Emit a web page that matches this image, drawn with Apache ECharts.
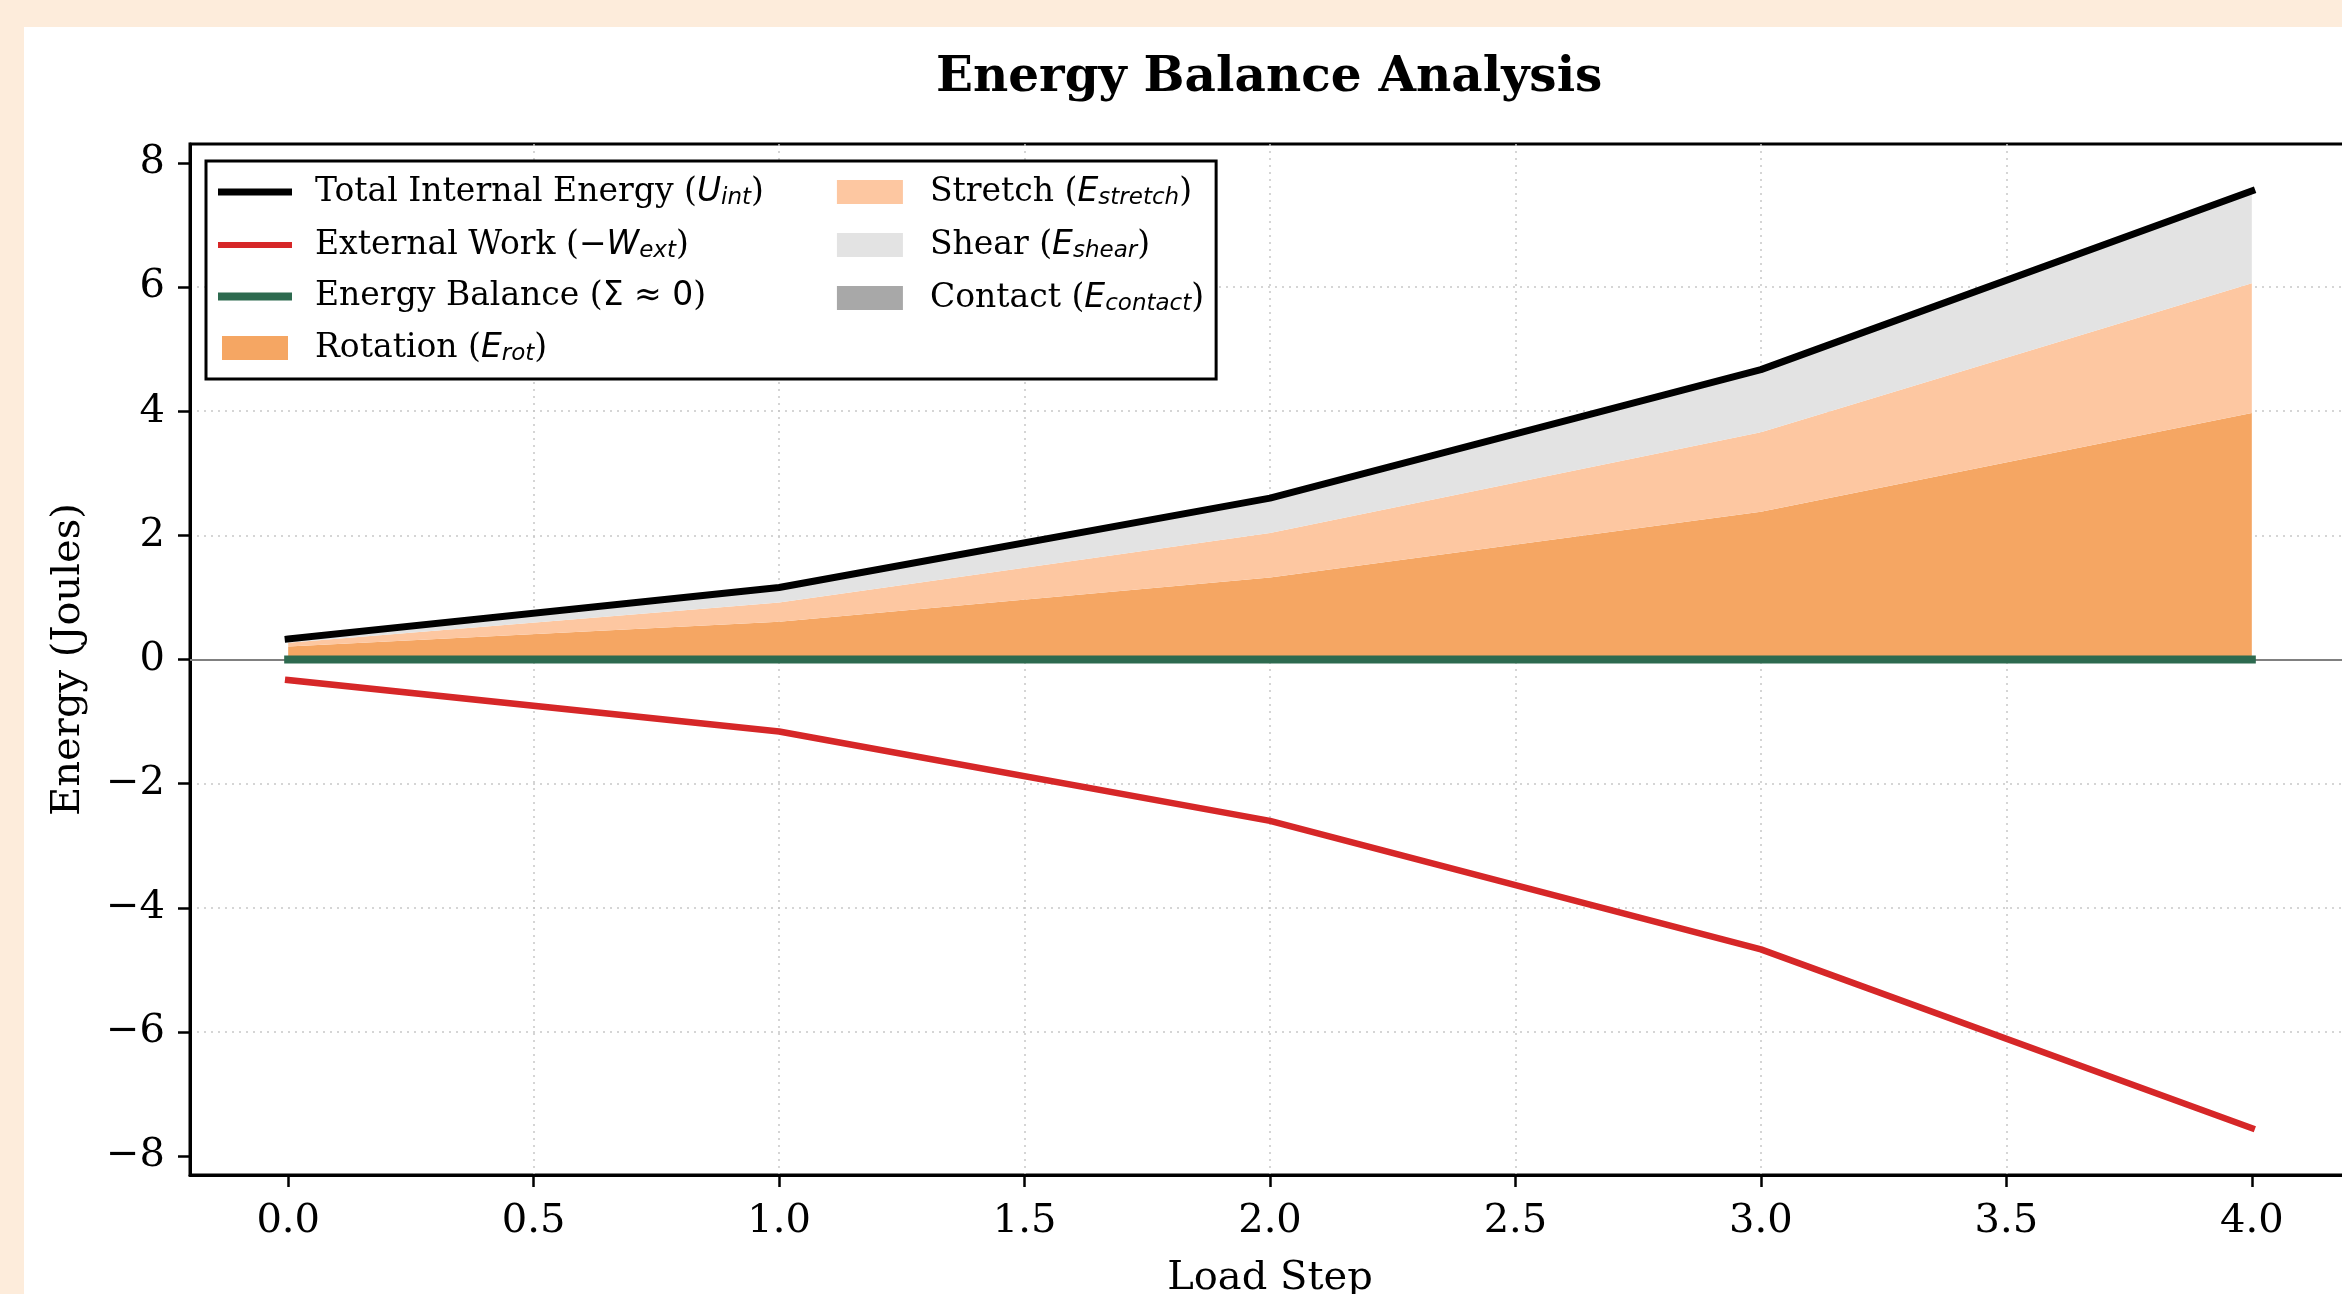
<!DOCTYPE html>
<html>
<head>
<meta charset="utf-8">
<title>Energy Balance Analysis</title>
<script src="https://cdn.jsdelivr.net/npm/echarts@6/dist/echarts.min.js"></script>
<style>
html, body { margin: 0; padding: 0; background: #FDECDB; }
#chart { width: 2342px; height: 1294px; }
</style>
</head>
<body>
<div id="chart"></div>
<script>
// load steps (x)
const steps = [0, 1, 2, 3, 4];
// stacked energy parts, joules
const rotation = [0.21, 0.61, 1.32, 2.38, 3.97];
const stretch = [0.06, 0.31, 0.72, 1.28, 2.09];
const shear = [0.06, 0.24, 0.56, 1.01, 1.49];
const contact = [0, 0, 0, 0, 0];
// lines
const totalInternal = [0.33, 1.16, 2.60, 4.67, 7.55];
const externalWork = [-0.33, -1.16, -2.60, -4.67, -7.55];
const balance = [0, 0, 0, 0, 0];
// ticks
const xTicks = [0, 0.5, 1, 1.5, 2, 2.5, 3, 3.5, 4];
const yTicks = [-8, -6, -4, -2, 0, 2, 4, 6, 8];

const serif = 'DejaVu Serif';
const pts = arr => steps.map((s, i) => [s, arr[i]]);
// value first so echarts stacks on y, not on x
const ptsYX = arr => steps.map((s, i) => [arr[i], s]);

// legend labels (mathtext look)
const legendText = {
    'Total Internal Energy': '{h|Total Internal Energy (}{m|U}{s|int}{e|)}',
    'External Work': '{h|External Work (}{n|−}{m|W}{s|ext}{t|)}',
    'Energy Balance': '{h|Energy Balance (}{n|Σ ≈ 0}{t|)}',
    'Rotation': '{h|Rotation (}{m|E}{s|rot}{t|)}',
    'Stretch': '{h|Stretch (}{m|E}{s|stretch}{t|)}',
    'Shear': '{h|Shear (}{m|E}{s|shear}{t|)}',
    'Contact': '{h|Contact (}{m|E}{s|contact}{t|)}'
};

function area(name, arr, color) {
    return {
        name: name, type: 'line', stack: 'parts', data: ptsYX(arr),
        encode: { x: 1, y: 0 },
        symbol: 'none', color: color, z: 2,
        lineStyle: { width: 0 },
        areaStyle: { color: color, opacity: 1 }
    };
}

let chart = echarts.init(document.getElementById('chart'));
let series = [
    area('Rotation', rotation, '#F5A663'),
    area('Stretch', stretch, '#FDC7A1'),
    area('Shear', shear, '#E3E3E3'),
    area('Contact', contact, '#A8A8A8'),
    {
        name: 'Total Internal Energy', type: 'line', data: pts(totalInternal),
        symbol: 'none', color: '#000', z: 4,
        lineStyle: { color: '#000', width: 7, cap: 'square' }
    },
    {
        name: 'External Work', type: 'line', data: pts(externalWork),
        symbol: 'none', color: '#D62728', z: 4,
        lineStyle: { color: '#D62728', width: 6.5, cap: 'square' }
    },
    {
        name: 'Energy Balance', type: 'line', data: pts(balance),
        symbol: 'none', color: '#2D6A4F', z: 5,
        lineStyle: { color: '#2D6A4F', width: 8, cap: 'square' }
    }
];
// thin zero line across the whole axes
series[0].markLine = {
    silent: true, symbol: 'none', label: { show: false },
    lineStyle: { color: '#808080', width: 2, type: 'solid' },
    data: [{ yAxis: 0 }]
};

let lineIcon = h => 'path://M0,0H74V' + h + 'H0Z';
let patchIcon = 'path://M0,0H66V24H0Z';
const fs = 33, lh = 40;

let option = {
    animation: false,
    backgroundColor: '#FDECDB',
    graphic: [{
        type: 'rect', z: -10, silent: true,
        shape: { x: 24, y: 27, width: 2342, height: 1294 },
        style: { fill: '#fff' }
    }],
    title: {
        text: 'Energy Balance Analysis',
        left: 931, top: 49,
        textStyle: { fontFamily: serif, fontWeight: 'bold', fontSize: 48.5, color: '#000' }
    },
    grid: {
        left: 190, top: 144, width: 2160, height: 1031,
        outerBoundsMode: 'none', containLabel: false,
        show: true, borderColor: '#000', borderWidth: 3, backgroundColor: 'transparent'
    },
    legend: {
        orient: 'vertical', left: 206, top: 161, height: 200,
        padding: [13, 12, 13, 12], itemGap: 17, itemWidth: 74, itemHeight: 24,
        backgroundColor: '#fff', borderColor: '#000', borderWidth: 3, borderRadius: 0,
        formatter: name => legendText[name],
        textStyle: {
            color: '#000',
            rich: {
                t: { fontFamily: serif, fontSize: fs, lineHeight: lh, color: '#000' },
                e: { fontFamily: serif, fontSize: fs, lineHeight: lh, color: '#000', padding: [0, 52, 0, 0] },
                h: { fontFamily: serif, fontSize: fs, lineHeight: lh, color: '#000', padding: [0, 0, 0, 18] },
                m: { fontFamily: 'DejaVu Sans', fontStyle: 'italic', fontSize: fs, lineHeight: lh, color: '#000' },
                n: { fontFamily: 'DejaVu Sans', fontSize: fs, lineHeight: lh, color: '#000' },
                s: { fontFamily: 'DejaVu Sans', fontStyle: 'italic', fontSize: 23, lineHeight: lh, color: '#000', padding: [13, 0, 0, 0] }
            }
        },
        data: [
            { name: 'Total Internal Energy', icon: lineIcon(7) },
            { name: 'External Work', icon: lineIcon(6) },
            { name: 'Energy Balance', icon: lineIcon(8) },
            { name: 'Rotation', icon: patchIcon },
            { name: 'Stretch', icon: patchIcon },
            { name: 'Shear', icon: patchIcon },
            { name: 'Contact', icon: patchIcon }
        ]
    },
    xAxis: {
        type: 'value', min: -0.2, max: 4.2,
        name: 'Load Step', nameLocation: 'middle', nameGap: 84,
        nameTextStyle: { fontFamily: serif, fontSize: 40, color: '#000' },
        axisLine: { show: true, onZero: false, lineStyle: { color: '#000', width: 3 } },
        axisTick: { show: true, length: 12, customValues: xTicks, lineStyle: { color: '#000', width: 2.5 } },
        axisLabel: {
            customValues: xTicks, margin: 27,
            fontFamily: serif, fontSize: 40, color: '#000',
            formatter: v => v.toFixed(1)
        },
        splitLine: { show: true, showMinLine: false, showMaxLine: false, lineStyle: { color: '#c8c8c8', width: 1.5, type: [2, 5] } }
    },
    yAxis: {
        type: 'value', min: -8.305, max: 8.305,
        name: 'Energy (Joules)', nameLocation: 'middle', nameGap: 101,
        nameTextStyle: { fontFamily: serif, fontSize: 40, color: '#000' },
        axisLine: { show: true, onZero: false, lineStyle: { color: '#000', width: 3 } },
        axisTick: { show: true, length: 12, customValues: yTicks, lineStyle: { color: '#000', width: 2.5 } },
        axisLabel: {
            customValues: yTicks, margin: 25,
            fontFamily: serif, fontSize: 40, color: '#000',
            formatter: v => (v < 0 ? '−' + (-v) : String(v))
        },
        splitLine: { show: true, showMinLine: false, showMaxLine: false, lineStyle: { color: '#c8c8c8', width: 1.5, type: [2, 5] } }
    },
    series: series
};
chart.setOption(option);
</script>
</body>
</html>
